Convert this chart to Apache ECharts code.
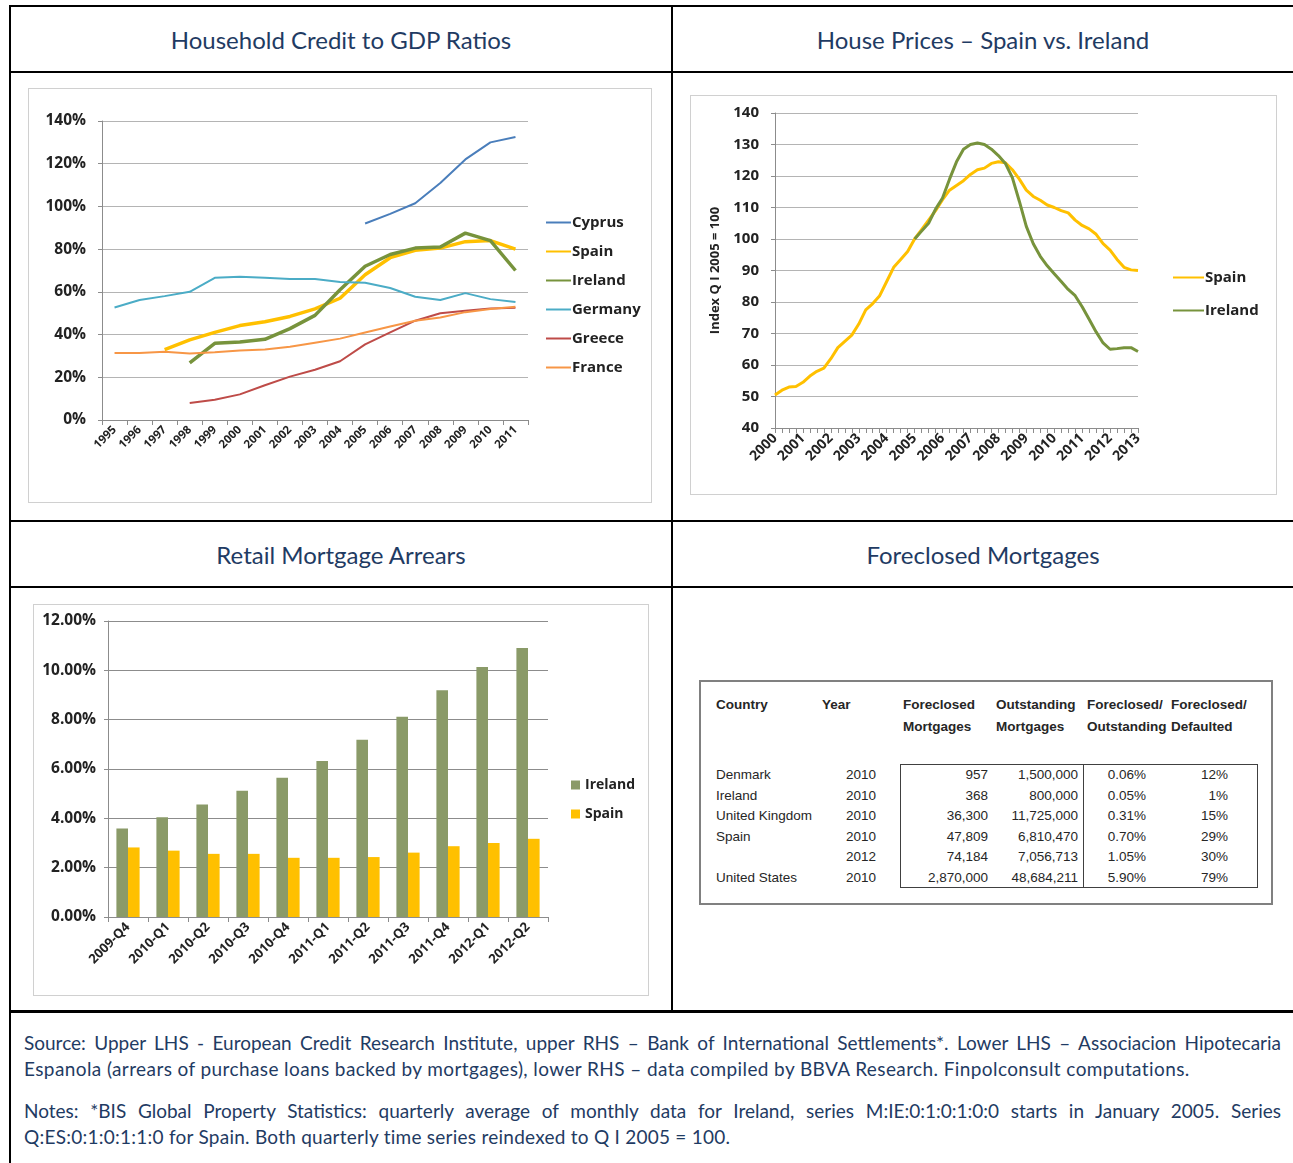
<!DOCTYPE html>
<html>
<head>
<meta charset="utf-8">
<title>Household credit and housing</title>
<script src="https://cdn.jsdelivr.net/npm/echarts@6.0.0/dist/echarts.min.js"></script>
<style>
  html, body { margin: 0; padding: 0; background: #fff; }
  .page { position: relative; width: 1293px; height: 1163px; overflow: hidden; font-family: Lato, "Open Sans", sans-serif; }
  .hl, .vl { position: absolute; background: #000; }
  .title { position: absolute; display: flex; align-items: center; justify-content: center; color: #1f3b63; font-size: 24px; }
  .box { position: absolute; outline: 1px solid #d0d0d0; outline-offset: -1px; }
  .tbl { position: absolute; left: 699px; top: 680px; width: 574px; height: 225px; box-sizing: border-box; border: 2px solid #808080; }
  .cell { position: absolute; font-family: "Liberation Sans", Arial, sans-serif; font-size: 13.5px; color: #262626; line-height: 20px; white-space: nowrap; }
  .cell.b { font-weight: bold; }
  .foot { position: absolute; left: 24px; width: 1257px; color: #1f3b63; font-size: 19px; letter-spacing: 0.4px; line-height: 24px; white-space: nowrap; }
  .foot.j { text-align: justify; text-align-last: justify; white-space: normal; letter-spacing: 0; }
</style>
</head>
<body>
<div class="page">
  <!-- frame -->
  <div class="hl" style="left:9px;top:5px;width:1284px;height:2px"></div>
  <div class="hl" style="left:9px;top:71px;width:1284px;height:2px"></div>
  <div class="hl" style="left:9px;top:520px;width:1284px;height:2px"></div>
  <div class="hl" style="left:9px;top:586px;width:1284px;height:2px"></div>
  <div class="hl" style="left:9px;top:1010px;width:1284px;height:3px"></div>
  <div class="vl" style="left:9px;top:5px;width:2px;height:1158px"></div>
  <div class="vl" style="left:671px;top:5px;width:2px;height:1006px"></div>

  <div class="title" style="left:11px;top:7px;width:660px;height:64px">Household Credit to GDP Ratios</div>
  <div class="title" style="left:673px;top:7px;width:620px;height:64px">House Prices – Spain vs. Ireland</div>
  <div class="title" style="left:11px;top:522px;width:660px;height:64px">Retail Mortgage Arrears</div>
  <div class="title" style="left:673px;top:522px;width:620px;height:64px">Foreclosed Mortgages</div>

  <div id="credit" class="box" style="left:28px;top:88px;width:624px;height:415px"></div>
  <div id="prices" class="box" style="left:690px;top:95px;width:587px;height:400px"></div>
  <div id="arrears" class="box" style="left:33px;top:604px;width:616px;height:392px"></div>

  <div class="tbl"></div>

  <div class="foot j" style="top:1031px">Source: Upper LHS - European Credit Research Institute, upper RHS – Bank of International Settlements*. Lower LHS – Associacion Hipotecaria</div>
  <div class="foot" style="top:1057px">Espanola (arrears of purchase loans backed by mortgages), lower RHS – data compiled by BBVA Research. Finpolconsult computations.</div>
  <div class="foot j" style="top:1099px">Notes: *BIS Global Property Statistics: quarterly average of monthly data for Ireland, series M:IE:0:1:0:1:0:0 starts in January 2005. Series</div>
  <div class="foot" style="top:1125px;letter-spacing:0.25px">Q:ES:0:1:0:1:1:0 for Spain. Both quarterly time series reindexed to Q I 2005 = 100.</div>
</div>

<script>
// ---- household credit to GDP (%), 1995-2011
var creditYears = ['1995', '1996', '1997', '1998', '1999', '2000', '2001', '2002', '2003', '2004', '2005', '2006', '2007', '2008', '2009', '2010', '2011'];
var creditCyprus = [null, null, null, null, null, null, null, null, null, null, 92, 96.5, 101.5, 111, 122, 130, 132.5];
var creditSpain = [null, null, 33, 37.5, 41, 44.2, 46, 48.5, 52, 57, 68, 76, 79.5, 80.5, 83.5, 84, 80];
var creditIreland = [null, null, null, 26.7, 35.9, 36.5, 37.8, 42.8, 49, 61, 72, 77.5, 80.5, 81, 87.5, 84, 70];
var creditGermany = [52.7, 56.2, 58, 60, 66.6, 67.1, 66.6, 66, 66, 64.6, 64.3, 61.8, 57.7, 56.2, 59.4, 56.6, 55.2];
var creditGreece = [null, null, null, 8, 9.5, 12, 16.3, 20.3, 23.5, 27.5, 35.4, 41, 46.5, 50, 51.2, 52.2, 52.5];
var creditFrance = [31.4, 31.4, 31.9, 31.1, 31.7, 32.5, 33, 34.3, 36.2, 38.1, 41, 43.8, 46.5, 48, 50.5, 52, 53];

// ---- house prices, quarterly 2000 Q1 - 2013 Q1, Q1 2005 = 100
var priceYears = ['2000', '2001', '2002', '2003', '2004', '2005', '2006', '2007', '2008', '2009', '2010', '2011', '2012', '2013'];
var priceSpain = [50.5, 52, 53, 53.2, 54.5, 56.5, 58, 59, 62, 65.5, 67.5, 69.5, 73, 77.5, 79.5, 82, 86.5, 91, 93.5, 96,
  100, 103, 106, 109, 112.5, 115.5, 117, 118.5, 120.5, 122, 122.5, 124, 124.5, 124.2, 122, 119, 115.5, 113.5, 112.3, 110.8,
  110, 109, 108.3, 106, 104.3, 103.2, 101.5, 98.5, 96.5, 93.5, 91, 90.2, 90];
var priceIreland = [null, null, null, null, null, null, null, null, null, null, null, null, null, null, null, null, null, null, null, null,
  100, 102.5, 105, 109.5, 113, 119, 124.5, 128.5, 130, 130.5, 130, 128.5, 126.5, 124, 119.5, 112, 104, 98.5, 94.5, 91.5,
  89, 86.5, 84, 82, 78.5, 74.5, 70.5, 67, 65, 65.2, 65.5, 65.5, 64.3];

// ---- retail mortgage arrears (%)
var arrearsQuarters = ['2009-Q4', '2010-Q1', '2010-Q2', '2010-Q3', '2010-Q4', '2011-Q1', '2011-Q2', '2011-Q3', '2011-Q4', '2012-Q1', '2012-Q2'];
var arrearsIreland = [3.59, 4.04, 4.56, 5.12, 5.65, 6.32, 7.19, 8.12, 9.19, 10.14, 10.91];
var arrearsSpain = [2.82, 2.69, 2.56, 2.56, 2.4, 2.4, 2.43, 2.61, 2.87, 3.0, 3.17];

// ---- foreclosed mortgages table
var tblCountry = ['Denmark', 'Ireland', 'United Kingdom', 'Spain', '', 'United States'];
var tblYear = ['2010', '2010', '2010', '2010', '2012', '2010'];
var tblForeclosed = [957, 368, 36300, 47809, 74184, 2870000];
var tblOutstanding = [1500000, 800000, 11725000, 6810470, 7056713, 48684211];
var tblShare = ['0.06%', '0.05%', '0.31%', '0.70%', '1.05%', '5.90%'];
var tblDefaulted = ['12%', '1%', '15%', '29%', '30%', '79%'];

var FONT = 'Open Sans';
var INK = '#222222';
var AXIS = '#8c8c8c';

// quarter categories for the price chart
var priceQuarters = [];
priceYears.forEach(function (y) {
  ['Q1', 'Q2', 'Q3', 'Q4'].forEach(function (q) { priceQuarters.push(y + ' ' + q); });
});
priceQuarters = priceQuarters.slice(0, priceSpain.length);

function lineSeries(name, data, color, width) {
  return {
    name: name, type: 'line', data: data, symbol: 'none',
    lineStyle: { color: color, width: width }, itemStyle: { color: color },
    connectNulls: false, animation: false
  };
}

function boldText(size) {
  return { fontFamily: FONT, fontWeight: 'bold', fontSize: size, color: INK };
}

// 家庭信贷
var creditChart = echarts.init(document.getElementById('credit'));
creditChart.setOption({
  animation: false,
  grid: { left: 74, top: 33, right: 124, bottom: 83 },
  legend: {
    orient: 'vertical', left: 517, top: 127, padding: 0, itemGap: 14, itemWidth: 25, itemHeight: 14,
    itemStyle: { color: 'rgba(0,0,0,0)', borderColor: 'rgba(0,0,0,0)', borderWidth: 0 },
    textStyle: Object.assign(boldText(15), { padding: [0, 0, 0, -4] }),
    data: ['Cyprus', 'Spain', 'Ireland', 'Germany', 'Greece', 'France']
  },
  xAxis: {
    type: 'category', data: creditYears, boundaryGap: true,
    axisLine: { lineStyle: { color: AXIS } },
    axisTick: { show: true, length: 5, lineStyle: { color: AXIS } },
    axisLabel: Object.assign(boldText(11.5), { rotate: 45, margin: 8, interval: 0 })
  },
  yAxis: {
    type: 'value', min: 0, max: 140, interval: 20,
    axisLine: { show: true, lineStyle: { color: AXIS } },
    axisTick: { show: true, length: 4, lineStyle: { color: AXIS } },
    axisLabel: Object.assign(boldText(15.5), { formatter: '{value}%', margin: 16 }),
    splitLine: { lineStyle: { color: '#b4b4b4' } }
  },
  series: [
    lineSeries('Cyprus', creditCyprus, '#4a7ebb', 2),
    lineSeries('Spain', creditSpain, '#ffc000', 3.5),
    lineSeries('Ireland', creditIreland, '#77933c', 3.5),
    lineSeries('Germany', creditGermany, '#4bacc6', 2),
    lineSeries('Greece', creditGreece, '#be4b48', 2),
    lineSeries('France', creditFrance, '#f79646', 2)
  ]
});

// 房价
var priceChart = echarts.init(document.getElementById('prices'));
priceChart.setOption({
  animation: false,
  grid: { left: 85, top: 18, right: 139, bottom: 67 },
  legend: {
    orient: 'vertical', left: 482, top: 175, padding: 0, itemGap: 18, itemWidth: 31, itemHeight: 14,
    itemStyle: { color: 'rgba(0,0,0,0)', borderColor: 'rgba(0,0,0,0)', borderWidth: 0 },
    textStyle: Object.assign(boldText(15), { padding: [0, 0, 0, -4] }),
    data: ['Spain', 'Ireland']
  },
  xAxis: {
    type: 'category', data: priceQuarters, boundaryGap: false,
    axisLine: { lineStyle: { color: AXIS } },
    axisTick: { show: true, interval: 0, length: 5, lineStyle: { color: AXIS } },
    axisLabel: Object.assign(boldText(14), {
      interval: 3, rotate: 45, margin: 8,
      formatter: function (v) { return v.slice(0, 4); }
    })
  },
  yAxis: {
    type: 'value', min: 40, max: 140, interval: 10,
    name: 'Index Q I 2005 = 100', nameLocation: 'middle', nameRotate: 90, nameGap: 53,
    nameTextStyle: boldText(13),
    axisLine: { show: true, lineStyle: { color: AXIS } },
    axisTick: { show: true, length: 4, lineStyle: { color: AXIS } },
    axisLabel: Object.assign(boldText(15), { margin: 16 }),
    splitLine: { lineStyle: { color: '#b4b4b4' } }
  },
  series: [
    lineSeries('Spain', priceSpain, '#ffc000', 3),
    lineSeries('Ireland', priceIreland, '#77933c', 3)
  ]
});

// 抵押贷款拖欠
var arrearsChart = echarts.init(document.getElementById('arrears'));
arrearsChart.setOption({
  animation: false,
  grid: { left: 75, top: 17, right: 101, bottom: 79 },
  legend: {
    orient: 'vertical', left: 538, top: 174, padding: 0, itemGap: 15, itemWidth: 9, itemHeight: 9, icon: 'rect',
    textStyle: boldText(14),
    data: ['Ireland', 'Spain']
  },
  xAxis: {
    type: 'category', data: arrearsQuarters,
    axisLine: { lineStyle: { color: AXIS } },
    axisTick: { show: true, length: 5, lineStyle: { color: AXIS } },
    axisLabel: Object.assign(boldText(13), { rotate: 45, margin: 8, interval: 0 })
  },
  yAxis: {
    type: 'value', min: 0, max: 12, interval: 2,
    axisLine: { show: true, lineStyle: { color: AXIS } },
    axisTick: { show: true, length: 4, lineStyle: { color: AXIS } },
    axisLabel: Object.assign(boldText(15.5), { margin: 12,
      formatter: function (v) { return v.toFixed(2) + '%'; } }),
    splitLine: { lineStyle: { color: AXIS } }
  },
  series: [
    { name: 'Ireland', type: 'bar', data: arrearsIreland, itemStyle: { color: '#8a9a68' }, barGap: '0%', barCategoryGap: '42%' },
    { name: 'Spain', type: 'bar', data: arrearsSpain, itemStyle: { color: '#ffc000' } }
  ]
});

// 表格
(function buildTable() {
  var page = document.querySelector('.page');
  function cell(text, x, y, align, bold) {
    var d = document.createElement('div');
    d.className = 'cell' + (bold ? ' b' : '');
    d.textContent = text;
    d.style.top = (y - 10) + 'px';
    if (align === 'right') { d.style.right = (1293 - x) + 'px'; } else { d.style.left = x + 'px'; }
    page.appendChild(d);
  }
  function box(l, t, w, h, css) {
    var d = document.createElement('div');
    d.style.cssText = 'position:absolute;left:' + l + 'px;top:' + t + 'px;width:' + w + 'px;height:' + h + 'px;' + css;
    page.appendChild(d);
  }
  var fmt = function (n) { return n.toLocaleString('en-US'); };
  cell('Country', 716, 705, 'left', true);
  cell('Year', 822, 705, 'left', true);
  cell('Foreclosed', 903, 705, 'left', true);
  cell('Mortgages', 903, 727, 'left', true);
  cell('Outstanding', 996, 705, 'left', true);
  cell('Mortgages', 996, 727, 'left', true);
  cell('Foreclosed/', 1087, 705, 'left', true);
  cell('Outstanding', 1087, 727, 'left', true);
  cell('Foreclosed/', 1171, 705, 'left', true);
  cell('Defaulted', 1171, 727, 'left', true);

  box(900, 764, 358, 124, 'box-sizing:border-box;border:1px solid #404040;');
  box(1083, 764, 1, 124, 'background:#404040;');

  var rowY = [775, 796, 816, 837, 857, 878];
  for (var i = 0; i < rowY.length; i++) {
    if (tblCountry[i]) cell(tblCountry[i], 716, rowY[i], 'left');
    cell(tblYear[i], 876, rowY[i], 'right');
    cell(fmt(tblForeclosed[i]), 988, rowY[i], 'right');
    cell(fmt(tblOutstanding[i]), 1078, rowY[i], 'right');
    cell(tblShare[i], 1146, rowY[i], 'right');
    cell(tblDefaulted[i], 1228, rowY[i], 'right');
  }
})();
</script>
</body>
</html>
